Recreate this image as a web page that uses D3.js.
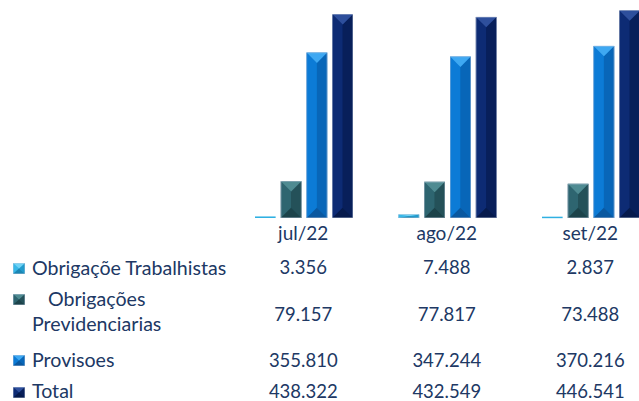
<!DOCTYPE html>
<html><head><meta charset="utf-8">
<script src="https://cdn.jsdelivr.net/npm/d3@7"></script>
<style>html,body{margin:0;padding:0;background:#fff;overflow:hidden}</style>
</head><body>
<svg id="chart" width="639" height="401"></svg>
<script>
const categories = ["jul/22", "ago/22", "set/22"];
const seriesNames = ["Obrigaçõe Trabalhistas", "Obrigações Previdenciarias", "Provisoes", "Total"];
const obrigTrabalhistas = [3.356, 7.488, 2.837];
const obrigPrevidenciarias = [79.157, 77.817, 73.488];
const provisoes = [355.810, 347.244, 370.216];
const total = [438.322, 432.549, 446.541];
const valueLabels = [
  ["3.356", "7.488", "2.837"],
  ["79.157", "77.817", "73.488"],
  ["355.810", "347.244", "370.216"],
  ["438.322", "432.549", "446.541"]
];
const seriesValues = [obrigTrabalhistas, obrigPrevidenciarias, provisoes, total];

const palettes = [
  {face:"#2fb0e2", top:"#6fd2f5", left:"#38b8e8", right:"#229bcc", bottom:"#1b86b3"},
  {face:"#2a5c64", top:"#4f8b92", left:"#2e6570", right:"#245159", bottom:"#1c434a"},
  {face:"#0a72c8", top:"#3ea8f2", left:"#0c7bd6", right:"#0866b8", bottom:"#0a58a0"},
  {face:"#0a2466", top:"#2e4f9c", left:"#0d2b74", right:"#081f5a", bottom:"#061a4c"}
];
const textColor = "#203864";
const font = "Lato, 'Open Sans', sans-serif";

const svg = d3.select("#chart");
const x0 = d3.scaleBand().domain(categories).range([231.5, 662]).paddingInner(0).paddingOuter(0);
const x1 = d3.scaleBand().domain(d3.range(4)).range([23.5, 121.5]).paddingInner(0.2).paddingOuter(0);
const y = d3.scaleLinear().domain([0, 500]).range([218, 218 - 232.4]);

function bevel(g, xa, ya, w, h, pal) {
  const xb = xa + w, yb = ya + h, cx = xa + w / 2;
  const d = Math.min(w / 2, h / 2);
  const pts = a => a.map(p => p.join(",")).join(" ");
  g.append("rect").attr("x", xa).attr("y", ya).attr("width", w).attr("height", h).attr("fill", pal.face);
  if (h < 3) return;
  g.append("polygon").attr("points", pts([[xa,ya],[cx,ya+d],[cx,yb-d],[xa,yb]])).attr("fill", pal.left);
  g.append("polygon").attr("points", pts([[xb,ya],[cx,ya+d],[cx,yb-d],[xb,yb]])).attr("fill", pal.right);
  g.append("polygon").attr("points", pts([[xa,ya],[xb,ya],[cx,ya+d]])).attr("fill", pal.top);
  g.append("polygon").attr("points", pts([[xa,yb],[xb,yb],[cx,yb-d]])).attr("fill", pal.bottom);
  g.append("rect").attr("x", xa+0.25).attr("y", ya+0.25).attr("width", w-0.5).attr("height", h-0.5)
    .attr("fill", "none").attr("stroke", "#b8c4d8").attr("stroke-width", 0.5).attr("stroke-opacity", 0.8);
}

const bars = svg.append("g");
categories.forEach((c, ci) => {
  seriesValues.forEach((vals, si) => {
    const xa = x0(c) + x1(si);
    const ya = y(vals[ci]);
    const h = y(0) - ya;
    bevel(bars.append("g"), xa, ya, x1.bandwidth(), Math.max(h, 1.5), palettes[si]);
  });
});

// table
const t = svg.append("g").attr("font-family", font).attr("font-size", 18.5).attr("fill", textColor);
t.selectAll("text.cat").data(categories).join("text")
  .attr("x", d => x0(d) + x0.bandwidth() / 2).attr("y", 240).attr("text-anchor", "middle")
  .attr("font-size", 19).text(d => d);

const rowY = [274, 321, 366.5, 398];
valueLabels.forEach((row, ri) => {
  t.selectAll(null).data(row).join("text")
    .attr("x", (d, i) => x0(categories[i]) + x0.bandwidth() / 2)
    .attr("y", rowY[ri]).attr("text-anchor", "middle").text(d => d);
});

// legend
const lg = svg.append("g").attr("font-family", font).attr("font-size", 19.6).attr("fill", textColor);
const legendRows = [
  {lines: [{text: seriesNames[0], x: 32, y: 275}], my: 263},
  {lines: [{text: "Obrigações", x: 48, y: 306}, {text: "Previdenciarias", x: 32, y: 331}], my: 294},
  {lines: [{text: seriesNames[2], x: 32, y: 366.5}], my: 355},
  {lines: [{text: seriesNames[3], x: 32, y: 398}], my: 387}
];
legendRows.forEach((r, i) => {
  bevel(svg.append("g"), 13, r.my, 12, 11, palettes[i]);
  r.lines.forEach(l => lg.append("text").attr("x", l.x).attr("y", l.y).text(l.text));
});
</script>
</body></html>
